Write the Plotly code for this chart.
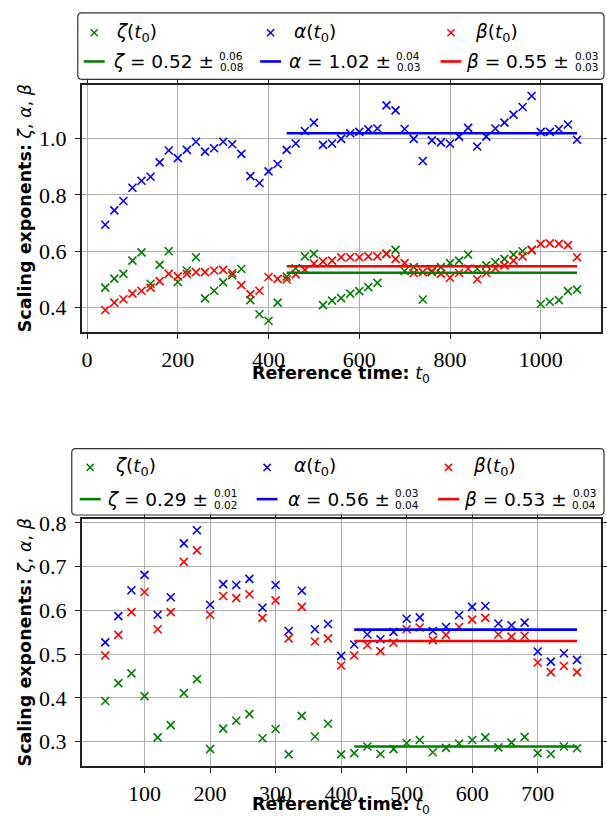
import plotly.graph_objects as go

# ---------------- data ----------------
t_top = list(range(40, 1081, 20))
zeta_top = [0.471, 0.503, 0.520, 0.567, 0.596, 0.485, 0.552, 0.600, 0.491, 0.532,
            0.579, 0.433, 0.460, 0.490, 0.515, 0.537, 0.427, 0.377, 0.354, 0.418,
            0.510, 0.540, 0.582, 0.591, 0.409, 0.425, 0.434, 0.450, 0.459, 0.473,
            0.488, 0.591, 0.605, 0.530, 0.544, 0.429, 0.526, 0.544, 0.558, 0.567,
            0.588, 0.538, 0.550, 0.561, 0.573, 0.588, 0.600, 0.605, 0.413, 0.421,
            0.427, 0.459, 0.464]
alpha_top = [0.694, 0.745, 0.778, 0.825, 0.850, 0.864, 0.915, 0.957, 0.930, 0.959,
             0.988, 0.953, 0.965, 0.988, 0.979, 0.945, 0.866, 0.842, 0.883, 0.909,
             0.959, 0.982, 1.026, 1.056, 0.977, 0.982, 0.998, 1.018, 1.023, 1.032,
             1.035, 1.117, 1.099, 1.033, 0.998, 0.920, 0.993, 0.986, 0.981, 1.006,
             1.037, 0.971, 1.006, 1.035, 1.056, 1.084, 1.111, 1.150, 1.023, 1.023,
             1.033, 1.049, 0.995]
beta_top = [0.392, 0.418, 0.430, 0.450, 0.460, 0.471, 0.494, 0.520, 0.511, 0.520,
            0.526, 0.526, 0.532, 0.534, 0.523, 0.480, 0.448, 0.460, 0.509, 0.502,
            0.500, 0.518, 0.534, 0.556, 0.564, 0.567, 0.579, 0.579, 0.579, 0.582,
            0.582, 0.591, 0.573, 0.558, 0.523, 0.526, 0.530, 0.520, 0.506, 0.523,
            0.538, 0.501, 0.523, 0.540, 0.550, 0.567, 0.582, 0.604, 0.626, 0.628,
            0.626, 0.622, 0.579]
fit_range_top = [440, 1080]
fit_top = {"zeta": 0.524, "alpha": 1.018, "beta": 0.547}
fit_txt_top = {"zeta": ("0.52", "0.06", "0.08"),
               "alpha": ("1.02", "0.04", "0.03"),
               "beta": ("0.55", "0.03", "0.03")}

t_bot = list(range(40, 761, 20))
zeta_bot = [0.393, 0.434, 0.456, 0.404, 0.310, 0.338, 0.411, 0.443, 0.283, 0.330,
            0.348, 0.363, 0.308, 0.329, 0.271, 0.359, 0.312, 0.341, 0.271, 0.274,
            0.289, 0.272, 0.283, 0.297, 0.304, 0.276, 0.286, 0.296, 0.304, 0.310,
            0.287, 0.298, 0.311, 0.274, 0.272, 0.289, 0.285]
alpha_bot = [0.527, 0.587, 0.646, 0.681, 0.590, 0.630, 0.753, 0.783, 0.613, 0.660,
             0.658, 0.672, 0.606, 0.658, 0.553, 0.645, 0.557, 0.569, 0.496, 0.522,
             0.545, 0.534, 0.551, 0.581, 0.584, 0.553, 0.562, 0.589, 0.608, 0.610,
             0.570, 0.566, 0.572, 0.506, 0.483, 0.502, 0.487]
beta_bot = [0.497, 0.544, 0.596, 0.642, 0.557, 0.596, 0.711, 0.737, 0.590, 0.633,
            0.628, 0.637, 0.583, 0.623, 0.536, 0.608, 0.529, 0.536, 0.474, 0.497,
            0.521, 0.507, 0.526, 0.557, 0.561, 0.532, 0.544, 0.562, 0.579, 0.583,
            0.545, 0.540, 0.542, 0.481, 0.459, 0.473, 0.459]
fit_range_bot = [420, 760]
fit_bot = {"zeta": 0.289, "alpha": 0.556, "beta": 0.530}
fit_txt_bot = {"zeta": ("0.29", "0.01", "0.02"),
               "alpha": ("0.56", "0.03", "0.04"),
               "beta": ("0.53", "0.03", "0.04")}

top_xticks = [0, 200, 400, 600, 800, 1000]
top_yticks = [0.4, 0.6, 0.8, 1.0]
bot_xticks = [100, 200, 300, 400, 500, 600, 700]
bot_yticks = [0.3, 0.4, 0.5, 0.6, 0.7, 0.8]

colors = {"zeta": "#008000", "alpha": "#0000ff", "beta": "#ff0000"}
greek = {"zeta": "ζ", "alpha": "α", "beta": "β"}
order = ["zeta", "alpha", "beta"]

W, H = 607, 816


def px(x):
    return x / W


def py(y):
    return 1 - y / H


fig = go.Figure()

panels = [
    dict(t=t_top, vals={"zeta": zeta_top, "alpha": alpha_top, "beta": beta_top},
         fit=fit_top, fr=fit_range_top, xa="x", ya="y"),
    dict(t=t_bot, vals={"zeta": zeta_bot, "alpha": alpha_bot, "beta": beta_bot},
         fit=fit_bot, fr=fit_range_bot, xa="x2", ya="y2"),
]

for p in panels:
    for k in order:
        fig.add_trace(go.Scatter(
            x=p["t"], y=p["vals"][k], mode="markers", xaxis=p["xa"], yaxis=p["ya"],
            marker=dict(symbol="x-thin", size=8, color=colors[k],
                        line=dict(width=1.6, color=colors[k])),
            showlegend=False, hoverinfo="skip"))
    for k in order:
        fig.add_trace(go.Scatter(
            x=p["fr"], y=[p["fit"][k]] * 2, mode="lines", xaxis=p["xa"], yaxis=p["ya"],
            line=dict(color=colors[k], width=2.6), showlegend=False, hoverinfo="skip"))

xdom = [81.9 / W, 602.6 / W]
tickfont = dict(family="Liberation Serif", size=22, color="black")
axis_common = dict(showline=True, linecolor="#222", linewidth=1.5, mirror="ticks",
                   ticks="outside", ticklen=5, tickwidth=1.2, tickcolor="#222",
                   showgrid=True, gridcolor="#b0b0b0", gridwidth=1.1,
                   zeroline=False, tickfont=tickfont)

fig.update_layout(
    width=W, height=H, margin=dict(l=0, r=0, t=0, b=0),
    paper_bgcolor="white", plot_bgcolor="white", showlegend=False,
    xaxis=dict(domain=xdom, range=[-12, 1132], tickvals=top_xticks, anchor="y",
               ticklabelstandoff=2, **axis_common),
    yaxis=dict(domain=[py(327.2), py(77.5)], range=[0.314, 1.190], tickvals=top_yticks,
               ticktext=[f"{v:.1f}" for v in top_yticks], anchor="x",
               ticklabelstandoff=4, **axis_common),
    xaxis2=dict(domain=xdom, range=[4, 796], tickvals=bot_xticks, anchor="y2",
                ticklabelstandoff=2, **axis_common),
    yaxis2=dict(domain=[py(765.6), py(516.1)], range=[0.2443, 0.8087], tickvals=bot_yticks,
                ticktext=[f"{v:.1f}" for v in bot_yticks], anchor="x2",
                ticklabelstandoff=4, **axis_common),
)

shapes = []
annotations = []

# axis titles
ytitle = "<b>Scaling exponents:</b> <i>ζ</i>, <i>α</i>, <i>β</i>"
xtitle = "<b>Reference time:</b> <i>t</i><sub>0</sub>"
for yc, xt_y in [(202.3, 370), (640.8, 805)]:
    annotations.append(dict(x=px(25), y=py(yc), xref="paper", yref="paper", text=ytitle,
                            textangle=-90, showarrow=False, xanchor="center", yanchor="middle",
                            font=dict(family="DejaVu Sans", size=17.5, color="black")))
    annotations.append(dict(x=px(342.3), y=py(xt_y), xref="paper", yref="paper", text=xtitle,
                            showarrow=False, xanchor="center", yanchor="middle",
                            font=dict(family="DejaVu Sans", size=17.5, color="black")))

# legends (drawn by hand)
legends = [
    dict(box=(78, 5, 606, 72), rows=(25, 54), mx=(94.5, 271.5, 452.5), tx=(114, 293, 475),
         sx=(232, 409.5, 588), txt=fit_txt_top),
    dict(box=(72, 445, 606, 512), rows=(464, 496), mx=(90.5, 268, 450), tx=(113, 292.6, 473),
         sx=(226, 408, 586), txt=fit_txt_bot),
]


def rounded_rect(x0, y0, x1, y1, r=4):
    pts = (f"M {px(x0 + r)},{py(y0)} L {px(x1 - r)},{py(y0)} "
           f"Q {px(x1)},{py(y0)} {px(x1)},{py(y0 + r)} L {px(x1)},{py(y1 - r)} "
           f"Q {px(x1)},{py(y1)} {px(x1 - r)},{py(y1)} L {px(x0 + r)},{py(y1)} "
           f"Q {px(x0)},{py(y1)} {px(x0)},{py(y1 - r)} L {px(x0)},{py(y0 + r)} "
           f"Q {px(x0)},{py(y0)} {px(x0 + r)},{py(y0)} Z")
    return pts


lfont = dict(family="DejaVu Sans", size=18.5, color="black")
sfont = dict(family="DejaVu Sans", size=10.5, color="black")
for L in legends:
    x0, y0, x1, y1 = L["box"]
    shapes.append(dict(type="path", path=rounded_rect(x0, y0, x1, y1), xref="paper", yref="paper",
                       line=dict(color="#333", width=1.2), fillcolor="rgba(255,255,255,0.8)",
                       layer="above"))
    r1, r2 = L["rows"]
    for i, k in enumerate(order):
        c = colors[k]
        cx = L["mx"][i]
        d = 3.6
        for (a, b, e, f) in [(cx - d, r1 - d, cx + d, r1 + d), (cx - d, r1 + d, cx + d, r1 - d)]:
            shapes.append(dict(type="line", x0=px(a), y0=py(b), x1=px(e), y1=py(f),
                               xref="paper", yref="paper", line=dict(color=c, width=1.5),
                               layer="above"))
        shapes.append(dict(type="line", x0=px(cx - 10.5), y0=py(r2), x1=px(cx + 10.5), y1=py(r2),
                           xref="paper", yref="paper", line=dict(color=c, width=2.6),
                           layer="above"))
        g = greek[k]
        annotations.append(dict(x=px(L["tx"][i]), y=py(r1), xref="paper", yref="paper",
                                text=f"<i>{g}</i>(<i>t</i><sub>0</sub>)", showarrow=False,
                                xanchor="left", yanchor="middle", font=lfont))
        val, up, lo = L["txt"][k]
        sx = L["sx"][i]
        annotations.append(dict(x=px(sx - 15), y=py(r2), xref="paper", yref="paper",
                                text=f"<i>{g}</i> = {val} ±", showarrow=False,
                                xanchor="right", yanchor="middle", font=lfont))
        annotations.append(dict(x=px(sx), y=py(r2 - 5.8), xref="paper", yref="paper",
                                text=up, showarrow=False, xanchor="center", yanchor="middle",
                                font=sfont))
        annotations.append(dict(x=px(sx), y=py(r2 + 5.8), xref="paper", yref="paper",
                                text=lo, showarrow=False, xanchor="center", yanchor="middle",
                                font=sfont))

fig.update_layout(shapes=shapes, annotations=annotations)
fig.write_html("out.html")
